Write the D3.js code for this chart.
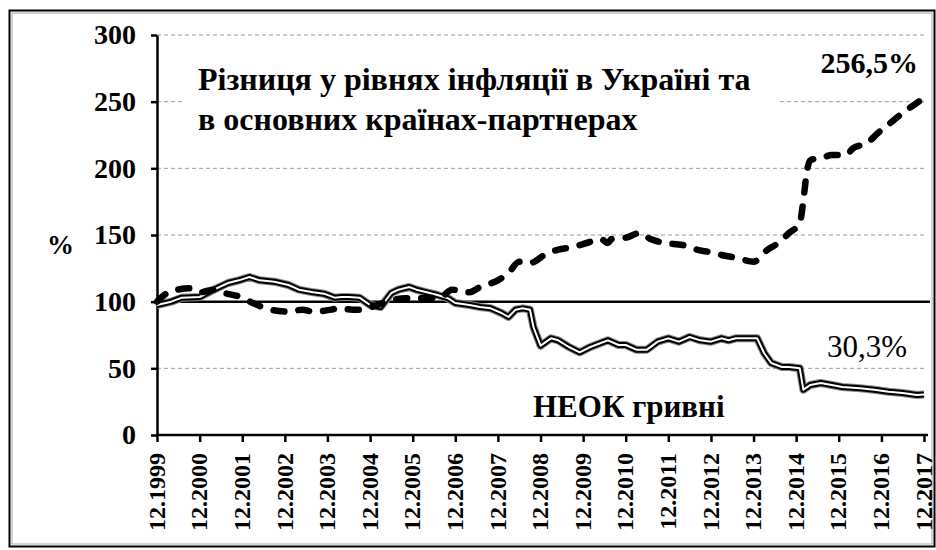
<!DOCTYPE html>
<html>
<head>
  <meta charset="utf-8">
  <title>Різниця у рівнях інфляції та НЕОК гривні</title>
  <script src="https://d3js.org/d3.v7.min.js"></script>
  <style>
    body { margin: 0; background: #fff; }
    svg text { font-family: "Liberation Serif", "Times New Roman", serif; }
  </style>
</head>
<body>
  <svg class="chart"></svg>
<script>
// ---- data ----
const xTickLabels = ["12.1999","12.2000","12.2001","12.2002","12.2003","12.2004","12.2005",
  "12.2006","12.2007","12.2008","12.2009","12.2010","12.2011","12.2012","12.2013",
  "12.2014","12.2015","12.2016","12.2017"];
const yTicks = [0, 50, 100, 150, 200, 250, 300];

// НЕОК гривні (double line)
const reerDates = ["12.1999","04.2000","07.2000","12.2000","04.2001","08.2001","11.2001","02.2002",
  "05.2002","09.2002","01.2003","04.2003","08.2003","11.2003","02.2004","04.2004","06.2004",
  "09.2004","12.2004","03.2005","06.2005","08.2005","11.2005","01.2006","04.2006","07.2006",
  "10.2006","12.2006","04.2007","07.2007","10.2007","01.2008","03.2008","05.2008","07.2008",
  "09.2008","10.2008","12.2008","03.2009","05.2009","08.2009","11.2009","02.2010","05.2010",
  "07.2010","10.2010","12.2010","03.2011","06.2011","09.2011","12.2011","03.2012","06.2012",
  "09.2012","12.2012","03.2013","05.2013","07.2013","01.2014","03.2014","05.2014","08.2014",
  "10.2014","01.2015","02.2015","04.2015","07.2015","10.2015","01.2016","06.2016","10.2016",
  "02.2017","06.2017","10.2017","12.2017"];
const reerValues = [97.5,100,103,103.5,109,114,116,118.5,
  116,115,112.5,109,107,106,103,103.5,103.5,
  103,97.5,96,106.5,109,111,109,107,105,
  102.5,99,97.5,96,95,91.5,88.5,94,95,
  94,81,67,72.5,71,66,62,66,69,
  71,67.5,67.5,64,64,70,72.5,70,73.5,
  71,70,72.5,71,72.5,72.5,61.5,54,51,
  51,50,34,37.5,39,37.5,36,35,34,
  32.5,31.5,30,30.3];

// Різниця у рівнях інфляції (dashed line)
const cpiDates = ["12.1999","03.2000","09.2000","12.2000","04.2001","07.2001","12.2001","03.2002",
  "08.2002","01.2003","05.2003","08.2003","01.2004","03.2004","07.2004","09.2004","02.2005",
  "06.2005","10.2005","03.2006","08.2006","11.2006","04.2007","07.2007","12.2007","03.2008",
  "06.2008","09.2008","02.2009","05.2009","09.2009","01.2010","05.2010","07.2010","08.2010",
  "12.2010","04.2011","07.2011","11.2011","04.2012","08.2012","12.2012","03.2013","07.2013",
  "12.2013","04.2014","07.2014","10.2014","01.2015","02.2015","03.2015","04.2015","08.2015",
  "10.2015","02.2016","04.2016","08.2016","11.2016","03.2017","06.2017","11.2017","12.2017"];
const cpiValues = [100,106.5,110,107,109,106.5,103,99,
  94,92.5,94,92.5,94,95,94,94,97.5,
  101,102.5,102.5,103.5,109,107,111,116,121.5,
  130,129,136.5,139,141,144,147,144,147,
  148,151.5,147,144,142.5,139,137,135,133,
  130,139,144,151.5,159,176,196.5,206,208.5,
  210,210,215,219,226.5,235,241.5,251,253];

// ---- layout ----
const W = 936, H = 550;
const parse = d3.timeParse("%m.%Y");

const svg = d3.select(".chart")
  .attr("width", W)
  .attr("height", H);

svg.append("rect").attr("width", W).attr("height", H).attr("fill", "#fff");

// outer frame
svg.append("rect")
  .attr("x", 9.5).attr("y", 10.5).attr("width", 925).attr("height", 536)
  .attr("fill", "none").attr("stroke", "#000").attr("stroke-width", 2);
svg.append("rect")
  .attr("x", 12).attr("y", 13).attr("width", 920).attr("height", 531)
  .attr("fill", "none").attr("stroke", "#aaa").attr("stroke-width", 1);

const xScale = d3.scaleTime()
  .domain([parse("12.1999"), parse("12.2017")])
  .range([157, 924]);

const yScale = d3.scaleLinear()
  .domain([0, 300])
  .range([435, 35]);

// grid lines (dashed gray)
svg.append("g")
  .selectAll("line")
  .data(yTicks.filter(d => d > 0 && d !== 100))
  .join("line")
  .attr("x1", 157).attr("x2", 927)
  .attr("y1", d => yScale(d)).attr("y2", d => yScale(d))
  .attr("stroke", "#999").attr("stroke-width", 1)
  .attr("stroke-dasharray", "4,3");

// 100 line
svg.append("line")
  .attr("x1", 157).attr("x2", 930)
  .attr("y1", yScale(100)).attr("y2", yScale(100))
  .attr("stroke", "#000").attr("stroke-width", 2.5);

// title box (white fill covers grid)
svg.append("rect")
  .attr("x", 183).attr("y", 52).attr("width", 595).attr("height", 92)
  .attr("fill", "#fff");

const title = svg.append("text")
  .attr("font-size", 32).attr("font-weight", "bold").attr("fill", "#000");
title.append("tspan").attr("x", 198).attr("y", 90).text("Різниця у рівнях інфляції в Україні та");
title.append("tspan").attr("x", 198).attr("y", 130).text("в основних країнах-партнерах");

// axes
const yAxis = d3.axisLeft(yScale)
  .tickValues(yTicks)
  .tickSize(6)
  .tickSizeOuter(0)
  .tickPadding(15);

const xAxis = d3.axisBottom(xScale)
  .tickValues(xTickLabels.map(parse))
  .tickFormat(d3.timeFormat("%m.%Y"))
  .tickSize(7)
  .tickSizeOuter(0);

const gy = svg.append("g")
  .attr("transform", "translate(157,0)")
  .call(yAxis);
gy.select(".domain").attr("stroke-width", 2.5);
gy.selectAll(".tick line").attr("stroke-width", 2.5);
gy.selectAll(".tick text")
  .attr("font-size", 28).attr("font-weight", "bold")
  .attr("font-family", "Liberation Serif, Times New Roman, serif");

const gx = svg.append("g")
  .attr("transform", "translate(0,435)")
  .call(xAxis);
gx.select(".domain").attr("d", "M157,0H928").attr("stroke-width", 2.5);
gx.selectAll(".tick line").attr("stroke-width", 2.5);
gx.selectAll(".tick text")
  .attr("font-size", 24).attr("font-weight", "bold")
  .attr("font-family", "Liberation Serif, Times New Roman, serif")
  .attr("transform", "rotate(-90)")
  .attr("x", -18).attr("y", 0).attr("dy", "0.3em")
  .style("text-anchor", "end");

// lines
const line = d3.line()
  .x(d => xScale(d.date))
  .y(d => yScale(d.value));

const reer = reerDates.map((d, i) => ({date: parse(d), value: reerValues[i]}));
const cpi = cpiDates.map((d, i) => ({date: parse(d), value: cpiValues[i]}));

// double line: gray halo, black band, white core
[["#888", 8], ["#000", 6], ["#fff", 2]].forEach(([c, w]) => {
  svg.append("path")
    .datum(reer)
    .attr("d", line)
    .attr("fill", "none")
    .attr("stroke", c).attr("stroke-width", w)
    .attr("stroke-linejoin", "round");
});

svg.append("path")
  .datum(cpi)
  .attr("d", line.curve(d3.curveMonotoneX))
  .attr("fill", "none")
  .attr("stroke", "#000").attr("stroke-width", 6.5)
  .attr("stroke-linecap", "round")
  .attr("stroke-dasharray", "11,14");

// labels
svg.append("text")
  .attr("x", 918).attr("y", 73)
  .attr("text-anchor", "end")
  .attr("font-size", 30).attr("font-weight", "bold")
  .text("256,5%");

svg.append("text")
  .attr("x", 907).attr("y", 357)
  .attr("text-anchor", "end")
  .attr("font-size", 31)
  .text("30,3%");

svg.append("text")
  .attr("x", 533).attr("y", 417)
  .attr("font-size", 31).attr("font-weight", "bold")
  .text("НЕОК гривні");

svg.append("text")
  .attr("x", 47).attr("y", 254)
  .attr("font-size", 27).attr("font-weight", "bold")
  .text("%");
</script>
</body>
</html>
